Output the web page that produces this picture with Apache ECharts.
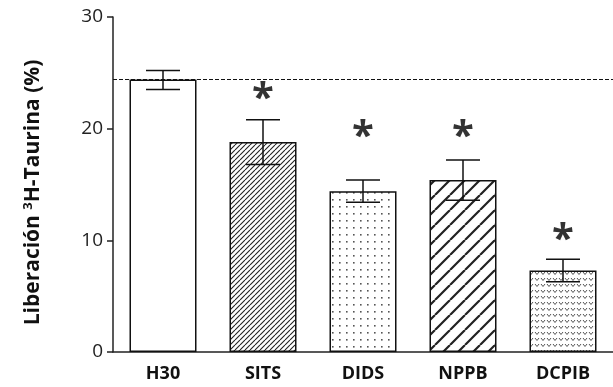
<!DOCTYPE html>
<html><head><meta charset="utf-8">
<script src="https://cdn.jsdelivr.net/npm/echarts@6/dist/echarts.min.js"></script>
<style>html,body{margin:0;padding:0;background:#fff}#c{width:613px;height:387px}</style>
</head><body><div id="c"></div>
<script>
var categories = ['H30','SITS','DIDS','NPPB','DCPIB'];
var means = [24.4, 18.8, 14.4, 15.4, 7.3];
var errUpper = [25.2, 20.8, 15.4, 17.2, 8.3];
var errLower = [23.5, 16.8, 13.4, 13.6, 6.3];
var starPos = [null, 23.3, 19.9, 19.9, 10.7];
var refLine = 24.4;
var yTicks = [0, 10, 20, 30];

function mk(w, h, draw){ var c=document.createElement('canvas'); c.width=w; c.height=h; var g=c.getContext('2d'); g.fillStyle='#fff'; g.fillRect(0,0,w,h); draw(g,w,h); return c; }
function hatch(s, lw){ return mk(s,s,function(g,w,h){ g.strokeStyle='#222'; g.lineWidth=lw; g.beginPath();
  for(var k=-1;k<=1;k++){ g.moveTo(k*w, h); g.lineTo(k*w+w, 0); } g.stroke(); }); }
var pFine = hatch(5, 1.1);
var pCoarse = hatch(15, 2.2);
var pDots = mk(7,7,function(g){ g.fillStyle='#555'; g.fillRect(3,3,1.6,1.6); });
var pHearts = mk(6,6,function(g){ g.strokeStyle='#555'; g.lineWidth=1; g.beginPath(); g.moveTo(1,2); g.lineTo(3,4.5); g.lineTo(5,2); g.stroke(); });
var fills = ['#fff', {image:pFine, repeat:'repeat'}, {image:pDots, repeat:'repeat'}, {image:pCoarse, repeat:'repeat'}, {image:pHearts, repeat:'repeat'}];

var chart = echarts.init(document.getElementById('c'));
chart.setOption({
  animation:false,
  grid:{left:113, right:0, top:17, bottom:35},
  xAxis:{type:'category', data:categories, boundaryGap:true,
    axisLine:{lineStyle:{color:'#222', width:1.5}},
    axisTick:{alignWithLabel:true, length:6, lineStyle:{color:'#222', width:1.5}},
    axisLabel:{color:'#111', fontWeight:'bold', fontSize:18, fontFamily:'Open Sans', margin:13}},
  yAxis:{type:'value', min:0, max:30, interval:10,
    name:'{a|Liberación }{s|3}{a|H-Taurina (%)}', nameLocation:'middle', nameGap:68, nameRotate:90,
    nameTextStyle:{padding:[0,16,0,0], rich:{a:{fontSize:21, fontWeight:'bold', color:'#111', fontFamily:'Open Sans'}, s:{fontSize:13, fontWeight:'bold', color:'#111', fontFamily:'Open Sans', verticalAlign:'top', padding:[0,0,10,0]}}},
    axisLine:{show:true, lineStyle:{color:'#222', width:1.5}},
    axisTick:{show:true, length:6, lineStyle:{color:'#222', width:1.5}},
    splitLine:{show:false},
    axisLabel:{color:'#222', fontSize:19, fontFamily:'Open Sans', margin:10,
      formatter:function(v){ return yTicks.indexOf(v)>=0 ? String(v) : ''; }}},
  series:[
    {type:'bar', barWidth:67, data:means.map(function(v,i){ return {value:v, itemStyle:{color:fills[i]}}; }),
     itemStyle:{borderColor:'#111', borderWidth:1.5},
     markLine:{symbol:'none', silent:true, label:{show:false},
       lineStyle:{type:[4,2], color:'#111', width:1.2}, data:[{yAxis:refLine}]}},
    {type:'custom', data:categories.map(function(c,i){ return [i, errLower[i], errUpper[i]]; }),
     renderItem:function(params, api){
       var lo = api.coord([api.value(0), api.value(1)]);
       var hi = api.coord([api.value(0), api.value(2)]);
       var hw = 17;
       var st = {stroke:'#111', lineWidth:1.5};
       return {type:'group', children:[
         {type:'line', shape:{x1:hi[0], y1:hi[1], x2:lo[0], y2:lo[1]}, style:st},
         {type:'line', shape:{x1:hi[0]-hw, y1:hi[1], x2:hi[0]+hw, y2:hi[1]}, style:st},
         {type:'line', shape:{x1:lo[0]-hw, y1:lo[1], x2:lo[0]+hw, y2:lo[1]}, style:st}
       ]};
     }, z:5},
    {type:'scatter', symbolSize:0, data:starPos.map(function(v,i){ return v==null? null : [i, v]; }),
     label:{show:true, formatter:'*', position:'inside', fontSize:40, fontWeight:'bold', fontFamily:'Open Sans', color:'#000', offset:[0,8]}}
  ]
});
</script></body></html>
